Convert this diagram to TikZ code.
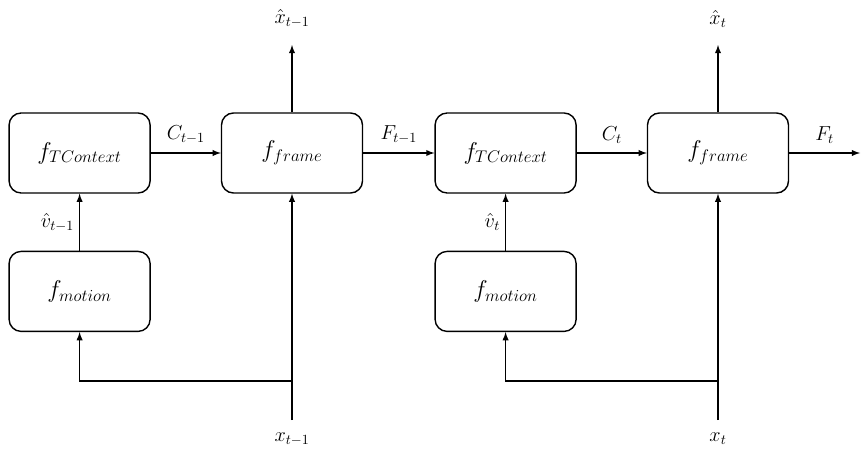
\documentclass[tikz,border=0pt]{standalone}
\usepackage{amsmath}
\usepackage{tikz}
\usepackage{xcolor}

\tikzset{
	blockbox/.style={draw, line width=1pt, rounded corners=0.3cm, minimum width=3.525cm, minimum height=2cm, font=\fontsize{16.5}{20}\selectfont},
	flow/.style={->, line width=1pt},
	lbl/.style={font=\Large, inner sep=2pt}
}

\begin{document}
\begin{tikzpicture}[>=latex]
		\useasboundingbox (0,0) rectangle (21.625,11.475);

		% blocks
		\node[blockbox] (ctxA) at (1.99,7.65) {$f_{TContext}$};
		\node[blockbox] (frmA) at (7.3,7.65) {$f_{frame}$};
		\node[blockbox] (ctxB) at (12.64,7.65) {$f_{TContext}$};
		\node[blockbox] (frmB) at (17.95,7.65) {$f_{frame}$};
		\node[blockbox] (motA) at (1.99,4.19) {$f_{motion}$};
		\node[blockbox] (motB) at (12.64,4.19) {$f_{motion}$};

		% inputs, outputs
		\coordinate (inA) at (7.3,0.975);
		\coordinate (inB) at (17.95,0.975);
		\coordinate (splitA) at (7.3,1.95);
		\coordinate (splitB) at (17.95,1.95);
		\coordinate (outA) at (7.3,10.35);
		\coordinate (outB) at (17.95,10.35);
		\coordinate (outF) at (21.5,7.65);
		\node[lbl] (xA) at (7.3,0.5) {$x_{t-1}$};
		\node[lbl] (xB) at (17.95,0.5) {$x_{t}$};
		\node[lbl] (xhA) at (7.3,11.0) {$\hat{x}_{t-1}$};
		\node[lbl] (xhB) at (17.95,11.0) {$\hat{x}_{t}$};

		\draw[flow] (ctxA) -- (frmA) node[lbl, midway, above=0.15cm] {$C_{t-1}$};
		\draw[flow] (frmA) -- (ctxB) node[lbl, midway, above=0.15cm] {$F_{t-1}$};
		\draw[flow] (ctxB) -- (frmB) node[lbl, midway, above=0.15cm] {$C_{t}$};
		\draw[flow] (frmB) -- (outF) node[lbl, midway, above=0.15cm] {$F_{t}$};

		\draw[flow] (motA) -- (ctxA) node[lbl, midway, left=0.05cm] {$\hat{v}_{t-1}$};
		\draw[flow] (motB) -- (ctxB) node[lbl, midway, left=0.05cm] {$\hat{v}_{t}$};

		\draw[flow] (frmA) -- (outA);
		\draw[flow] (frmB) -- (outB);

		\draw[flow] (inA) -- (frmA);
		\draw[flow] (inB) -- (frmB);
		\draw[flow] (splitA) -| (motA);
		\draw[flow] (splitB) -| (motB);

	\end{tikzpicture}
\end{document}
